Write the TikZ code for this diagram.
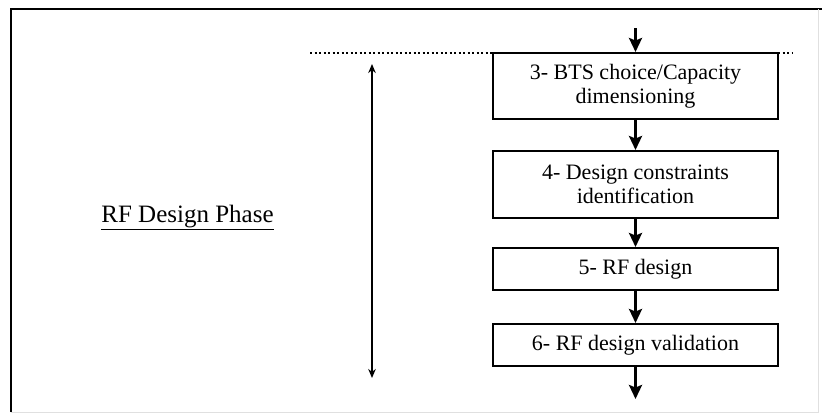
\documentclass[tikz,border=0pt]{standalone}
\usepackage{fontspec}
\setmainfont{Liberation Serif}
\usetikzlibrary{arrows.meta}
\begin{document}
\begin{tikzpicture}[x=1pt,y=-1pt,
  stepbox/.style={draw, line width=2pt, minimum width=285pt, inner sep=0pt,
    align=center, font=\fontsize{22}{24}\selectfont},
  flow/.style={line width=2.8pt, -{Stealth[length=14pt,width=13pt,inset=2.5pt]}},
  span/.style={line width=1.3pt, {Stealth[length=9pt,width=7.5pt]}-{Stealth[length=9pt,width=7.5pt]}},
  frame/.style={line width=1.6pt}]
\useasboundingbox (0,0) rectangle (822,416);
% outer frame
\draw[frame] (11,412) -- (11,9) -- (822,9);
\draw[line width=0.8pt, black!12] (818,9) -- (818,412) -- (11,412);
% phase boundary
\draw[line width=1.4pt, dash pattern=on 2pt off 2.5pt] (310,53) coordinate (dl) -- (792,53) coordinate (dr);
% process boxes
\node[stepbox, minimum height=66pt] (b3) at (635.5,86) {3- BTS choice/Capacity\\dimensioning};
\node[stepbox, minimum height=67pt] (b4) at (635.5,184.5) {4- Design constraints\\identification};
\node[stepbox, minimum height=42pt] (b5) at (635.5,269) {5- RF design};
\node[stepbox, minimum height=42pt] (b6) at (635.5,345) {6- RF design validation};
\coordinate (in) at (635.5,28);
\coordinate (out) at (635.5,399);
\draw[flow] (in) -- (b3.north);
\draw[flow] (b3) -- (b4);
\draw[flow] (b4) -- (b5);
\draw[flow] (b5) -- (b6);
\draw[flow] (b6.south) -- (out);
% phase extent
\coordinate (pt) at (372,64);
\coordinate (pb) at (372,378);
\draw[span] (pt) -- (pb);
\node[anchor=base, font=\fontsize{25}{28}\selectfont] (phase) at (187.5,222) {\underline{RF Design Phase}};
\end{tikzpicture}
\end{document}
